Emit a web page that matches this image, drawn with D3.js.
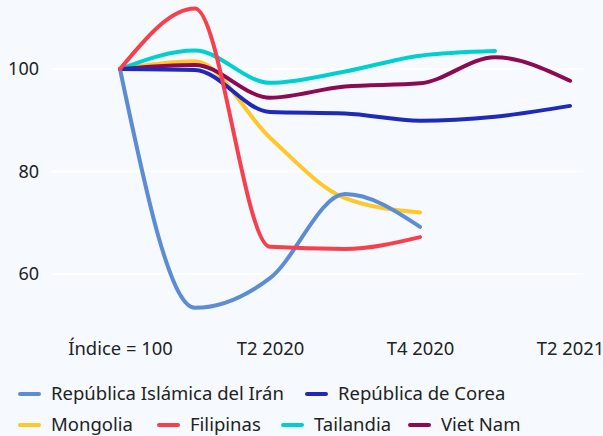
<!DOCTYPE html>
<html>
<head>
<meta charset="utf-8">
<script src="https://cdn.jsdelivr.net/npm/d3@7"></script>
<style>
  html, body { margin: 0; padding: 0; background: #f6faff; }
  svg { display: block; font-family: "Noto Sans", sans-serif; }
</style>
</head>
<body>
<div id="chart"></div>
<script>
// periodos (eje x)
const periods = ["Índice = 100", "T1 2020", "T2 2020", "T3 2020", "T4 2020", "T1 2021", "T2 2021"];
const tickLabels = ["Índice = 100", "T2 2020", "T4 2020", "T2 2021"];
const yTicks = [60, 80, 100];

// series (null = sin dato)
const iran      = [100, 53.4, 59.2, 75.6, 69.2, null, null];
const corea     = [100, 99.8, 91.6, 91.3, 89.9, 90.7, 92.8];
const mongolia  = [100, 101.5, 86.6, 74.8, 72.0, null, null];
const filipinas = [100, 111.8, 65.3, 64.9, 67.2, null, null];
const tailandia = [100, 103.6, 97.3, 99.5, 102.6, 103.5, null];
const vietnam   = [100, 100.8, 94.4, 96.6, 97.2, 102.3, 97.7];

const seriesNames = ["República Islámica del Irán", "República de Corea", "Mongolia", "Filipinas", "Tailandia", "Viet Nam"];
const seriesValues = [iran, corea, mongolia, filipinas, tailandia, vietnam];
const colors = ["#5b8cd4", "#1f2bb8", "#ffc727", "#f73f4e", "#00cfcf", "#8d0a52"];
// orden de dibujo (el rojo por encima)
const drawOrder = [2, 4, 5, 1, 0, 3];

const width = 603, height = 436;

const svg = d3.select("#chart").append("svg")
  .attr("width", width)
  .attr("height", height);

const x = d3.scalePoint().domain(periods).range([120, 570]);
const y = d3.scaleLinear().domain([60, 100]).range([274, 69]);

// rejilla
svg.append("g")
  .selectAll("line")
  .data(yTicks)
  .enter()
  .append("line")
  .attr("x1", 52)
  .attr("x2", 584)
  .attr("y1", d => y(d))
  .attr("y2", d => y(d))
  .style("stroke", "#ffffff")
  .style("stroke-width", "2px");

// eje y
const yAxis = svg.append("g")
  .attr("transform", "translate(39,0)")
  .call(d3.axisLeft(y).tickValues(yTicks).tickSize(0).tickPadding(0));
yAxis.select(".domain").remove();
yAxis.selectAll("text")
  .style("font-size", "18px")
  .style("font-family", "Noto Sans")
  .attr("fill", "#222");

// eje x
const xAxis = svg.append("g")
  .attr("transform", "translate(0,342)")
  .call(d3.axisBottom(x).tickValues(tickLabels).tickSize(0).tickPadding(0));
xAxis.select(".domain").remove();
xAxis.selectAll("text")
  .style("font-size", "18.4px")
  .style("font-family", "Noto Sans")
  .attr("fill", "#222");

// líneas
const line = d3.line()
  .defined(d => d.v != null)
  .x(d => x(d.p))
  .y(d => y(d.v))
  .curve(d3.curveMonotoneX);

drawOrder.forEach(i => {
  const pts = periods.map((p, j) => ({ p: p, v: seriesValues[i][j] }));
  svg.append("path")
    .datum(pts)
    .attr("d", line)
    .style("fill", "none")
    .style("stroke", colors[i])
    .style("stroke-width", "4px")
    .style("stroke-linecap", "round")
    .style("stroke-linejoin", "round");
});

// leyenda
const legendPos = [
  { x: 18, y: 394 }, { x: 305, y: 394 },
  { x: 18, y: 425 }, { x: 157, y: 425 }, { x: 281, y: 425 }, { x: 408, y: 425 }
];
const legend = svg.append("g");
seriesNames.forEach((name, i) => {
  const g = legend.append("g").attr("transform", `translate(${legendPos[i].x},${legendPos[i].y})`);
  g.append("line")
    .attr("x1", 2).attr("x2", 21)
    .attr("y1", 0).attr("y2", 0)
    .style("stroke", colors[i])
    .style("stroke-width", "4px")
    .style("stroke-linecap", "round");
  g.append("text")
    .attr("x", 33)
    .attr("dy", "0.35em")
    .style("font-size", "18.5px")
    .attr("fill", "#222")
    .text(name);
});
</script>
</body>
</html>
